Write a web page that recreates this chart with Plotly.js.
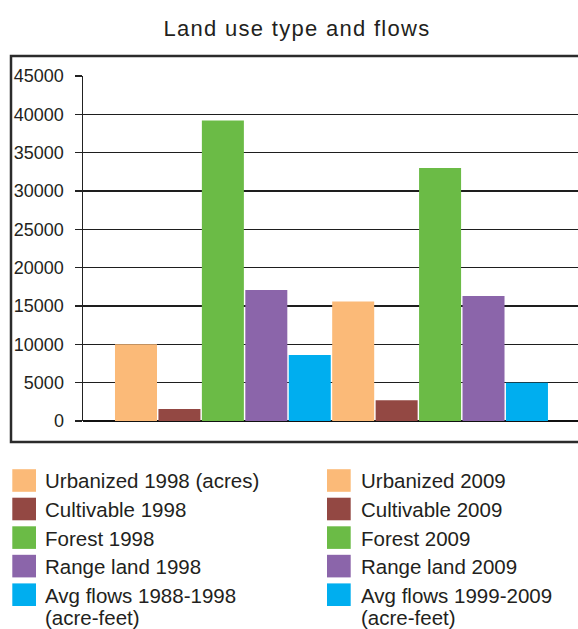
<!DOCTYPE html>
<html>
<head>
<meta charset="utf-8">
<script src="https://cdn.plot.ly/plotly-3.0.1.min.js"></script>
<style>
  html, body { margin: 0; padding: 0; background: #fff; }
  #chart { width: 578px; height: 629px; }
  .gtitle { letter-spacing: 1.3px; }
</style>
</head>
<body>
<div id="chart"></div>
<script>
// ---- data ----
const categories = ['Urbanized 1998 (acres)', 'Cultivable 1998', 'Forest 1998', 'Range land 1998', 'Avg flows 1988-1998 (acre-feet)',
                    'Urbanized 2009', 'Cultivable 2009', 'Forest 2009', 'Range land 2009', 'Avg flows 1999-2009 (acre-feet)'];
const legendLabels = ['Urbanized 1998 (acres)', 'Cultivable 1998', 'Forest 1998', 'Range land 1998', 'Avg flows 1988-1998<br>(acre-feet)',
                      'Urbanized 2009', 'Cultivable 2009', 'Forest 2009', 'Range land 2009', 'Avg flows 1999-2009<br>(acre-feet)'];
const values = [10000, 1550, 39200, 17100, 8600, 15600, 2700, 33000, 16300, 5000];
const colors = ['#FBBA78', '#934843', '#6BBB46', '#8B65AA', '#00AEEF',
                '#FBBA78', '#934843', '#6BBB46', '#8B65AA', '#00AEEF'];
const yTicks = [0, 5000, 10000, 15000, 20000, 25000, 30000, 35000, 40000, 45000];

// ---- layout helpers (pixel -> paper) ----
const W = 578, H = 629;
const mL = 83, mR = 0, mT = 76, mB = 208;
const pw = W - mL - mR, ph = H - mT - mB;
const px = x => (x - mL) / pw;
const py = y => (H - mB - y) / ph;

const textColor = '#231f20';
const fontFam = 'Liberation Sans, Arial, Helvetica, sans-serif';

const trace = {
  type: 'bar',
  x: categories,
  y: values,
  marker: { color: colors, line: { width: 0 } },
  showlegend: false,
  hoverinfo: 'x+y'
};

// manual two-column legend built from the series arrays
const shapes = [];
const annotations = [];
const rowY = [480.5, 509, 537.6, 566.1, 594.7];
const lineGap = 22.5;
legendLabels.forEach((lab, i) => {
  const col = i < 5 ? 0 : 1;
  const row = i % 5;
  const sx0 = col === 0 ? 12.3 : 327;
  const tx = col === 0 ? 43 : 359;
  const cy = rowY[row];
  shapes.push({
    type: 'rect', xref: 'paper', yref: 'paper',
    x0: px(sx0), x1: px(sx0 + 23.7), y0: py(cy + 11.3), y1: py(cy - 11.3),
    fillcolor: colors[i], line: { width: 0 }, layer: 'above'
  });
  lab.split('<br>').forEach((line, k) => {
    annotations.push({
      xref: 'paper', yref: 'paper',
      x: px(tx), y: py(cy + 0.5 + k * lineGap),
      xanchor: 'left', yanchor: 'middle', align: 'left',
      text: line, showarrow: false,
      font: { family: fontFam, size: 20.5, color: textColor }
    });
  });
});

// outer frame around the chart
shapes.push({
  type: 'rect', xref: 'paper', yref: 'paper',
  x0: px(11), x1: px(600), y0: py(442), y1: py(56),
  line: { color: '#2b2b2b', width: 2.5 }, fillcolor: 'rgba(0,0,0,0)', layer: 'above'
});

const layout = {
  width: W, height: H,
  margin: { l: mL, r: mR, t: mT, b: mB, pad: 0 },
  paper_bgcolor: '#ffffff',
  plot_bgcolor: '#ffffff',
  font: { family: fontFam, color: textColor },
  title: {
    text: 'Land use type and flows',
    xref: 'container', yref: 'container',
    x: 297 / W, xanchor: 'center',
    y: 1 - 28 / H, yanchor: 'middle',
    font: { family: fontFam, size: 22, color: textColor }
  },
  bargap: 0.033,
  xaxis: {
    type: 'category',
    range: [-1.22, 10.175],
    showticklabels: false,
    showgrid: false,
    zeroline: false,
    showline: false,
    ticks: '',
    fixedrange: true
  },
  yaxis: {
    range: [0, 45000],
    tickvals: yTicks,
    tickformat: 'd',
    ticks: 'outside',
    ticklen: 7,
    tickwidth: 1.5,
    tickcolor: '#222',
    ticklabelstandoff: 7,
    tickfont: { family: fontFam, size: 18, color: textColor },
    showgrid: true,
    gridcolor: '#1e1e1e',
    gridwidth: 1.6,
    zeroline: true,
    zerolinecolor: '#111',
    zerolinewidth: 2,
    showline: true,
    linecolor: '#222',
    linewidth: 1.5,
    fixedrange: true
  },
  shapes: shapes,
  annotations: annotations
};

Plotly.newPlot('chart', [trace], layout, { displayModeBar: false, staticPlot: true });
</script>
</body>
</html>
